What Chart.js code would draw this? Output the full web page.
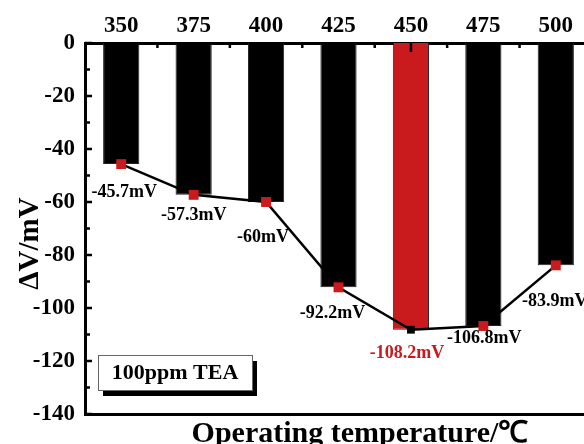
<!DOCTYPE html>
<html>
<head>
<meta charset="utf-8">
<script src="https://cdn.jsdelivr.net/npm/chart.js@4"></script>
<style>
  html, body { margin: 0; padding: 0; background: #fff; overflow: hidden; }
  #wrap { width: 600px; height: 444px; }
</style>
</head>
<body>
<div id="wrap"><canvas id="chart" width="600" height="444"></canvas></div>
<script>
// data
const temperatures = ['350', '375', '400', '425', '450', '475', '500'];
const deltaV = [-45.7, -57.3, -60, -92.2, -108.2, -106.8, -83.9];
const highlightIndex = 4; // 450 is the optimum
const yMin = -140, yMax = 0, yStep = 20;
const xTitle = 'Operating temperature/℃';
const yTitle = 'ΔV/mV';

const serif = '"Liberation Serif", "Times New Roman", serif';
const red = '#c91a1d';

// where each value label sits relative to its marker
const labelOffsets = [[3, 28], [0, 20], [-3, 35], [-6, 26], [-4, 24], [1, 12], [-1, 36]];

const barColors = temperatures.map((t, i) => i === highlightIndex ? red : '#000');
const pointColors = temperatures.map((t, i) => i === highlightIndex ? '#000' : red);
const pointSizes = temperatures.map((t, i) => i === highlightIndex ? 5.5 : 7);

const tickMarks = {
    id: 'tickMarks',
    afterDraw(chart) {
        const ctx = chart.ctx;
        const area = chart.chartArea;
        const y = chart.scales.y;
        const x = chart.scales.x;
        ctx.save();
        ctx.strokeStyle = '#000';
        ctx.lineWidth = 2.5;
        for (let v = yMax; v >= yMin; v -= yStep / 2) {
            const py = y.getPixelForValue(v);
            const len = (v % yStep === 0) ? 7 : 5;
            ctx.beginPath();
            ctx.moveTo(area.left, py);
            ctx.lineTo(area.left + len, py);
            ctx.stroke();
        }
        for (let i = 0; i < temperatures.length; i++) {
            const c = x.getPixelForValue(i);
            ctx.beginPath();
            ctx.moveTo(c, area.top);
            ctx.lineTo(c, area.top + 9);
            ctx.stroke();
            if (i < temperatures.length - 1) {
                const b = (c + x.getPixelForValue(i + 1)) / 2;
                ctx.beginPath();
                ctx.moveTo(b, area.top);
                ctx.lineTo(b, area.top + 5);
                ctx.stroke();
            }
        }
        ctx.restore();
    }
};

const valueLabels = {
    id: 'valueLabels',
    afterDraw(chart) {
        const ctx = chart.ctx;
        const meta = chart.getDatasetMeta(0);
        ctx.save();
        ctx.font = 'bold 18px ' + serif;
        ctx.textAlign = 'center';
        ctx.textBaseline = 'middle';
        meta.data.forEach((pt, i) => {
            ctx.fillStyle = i === highlightIndex ? red : '#000';
            ctx.fillText(deltaV[i] + 'mV', pt.x + labelOffsets[i][0], pt.y + labelOffsets[i][1]);
        });
        ctx.restore();
    }
};

// axis titles, placed off-centre like in the original figure
const axisTitles = {
    id: 'axisTitles',
    afterDraw(chart) {
        const ctx = chart.ctx;
        const a = chart.chartArea;
        ctx.save();
        ctx.fillStyle = '#000';
        ctx.textAlign = 'center';
        ctx.textBaseline = 'alphabetic';
        ctx.font = 'bold 30px ' + serif;
        ctx.fillText(xTitle, 360, a.bottom + 28);
        ctx.translate(38, (a.top + a.bottom) / 2 + 15);
        ctx.rotate(-Math.PI / 2);
        ctx.font = 'bold 29px ' + serif;
        ctx.fillText(yTitle, 0, 0);
        ctx.restore();
    }
};

const noteBox = {
    id: 'noteBox',
    afterDraw(chart) {
        const ctx = chart.ctx;
        const a = chart.chartArea;
        const bx = a.left + 13, by = a.bottom - 59, bw = 154, bh = 35;
        ctx.save();
        ctx.fillStyle = '#000';
        ctx.fillRect(bx + 5, by + 6, bw, bh);
        ctx.fillStyle = '#fff';
        ctx.fillRect(bx, by, bw, bh);
        ctx.strokeStyle = '#666';
        ctx.lineWidth = 1;
        ctx.strokeRect(bx + 0.5, by + 0.5, bw, bh);
        ctx.fillStyle = '#000';
        ctx.font = 'bold 22px ' + serif;
        ctx.textAlign = 'center';
        ctx.textBaseline = 'middle';
        ctx.fillText('100ppm TEA', bx + bw / 2, by + bh / 2 + 1);
        ctx.restore();
    }
};

new Chart(document.getElementById('chart'), {
    type: 'bar',
    data: {
        labels: temperatures,
        datasets: [
            {
                type: 'line',
                data: deltaV,
                order: 0,
                borderColor: '#000',
                borderWidth: 2.5,
                tension: 0,
                pointStyle: 'rect',
                pointRadius: pointSizes,
                pointBackgroundColor: pointColors,
                pointBorderWidth: 0,
                xAxisID: 'x'
            },
            {
                data: deltaV,
                order: 1,
                backgroundColor: barColors,
                borderColor: '#222',
                borderWidth: 1,
                barPercentage: 0.5,
                categoryPercentage: 1,
                xAxisID: 'x'
            }
        ]
    },
    options: {
        responsive: false,
        animation: false,
        devicePixelRatio: 1,
        layout: { padding: { left: 0, right: 8, top: 0, bottom: 0 } },
        plugins: { legend: { display: false }, tooltip: { enabled: false } },
        scales: {
            x: {
                position: 'top',
                grid: { display: false },
                border: { display: true, color: '#000', width: 3 },
                ticks: { color: '#000', padding: -5, font: { family: serif, size: 23, weight: 'bold' } },
                afterFit(s) { s.height = 43; }
            },
            x2: {
                position: 'bottom',
                labels: temperatures,
                grid: { display: false },
                border: { display: true, color: '#000', width: 3 },
                ticks: { display: false },
                afterFit(s) { s.height = 30; }
            },
            y: {
                min: yMin,
                max: yMax,
                grid: { display: false },
                border: { display: true, color: '#000', width: 3 },
                ticks: { stepSize: yStep, color: '#000', padding: 2, font: { family: serif, size: 23, weight: 'bold' } },
                afterFit(s) { s.width = 85; }
            }
        }
    },
    plugins: [tickMarks, valueLabels, noteBox, axisTitles]
});
</script>
</body>
</html>
